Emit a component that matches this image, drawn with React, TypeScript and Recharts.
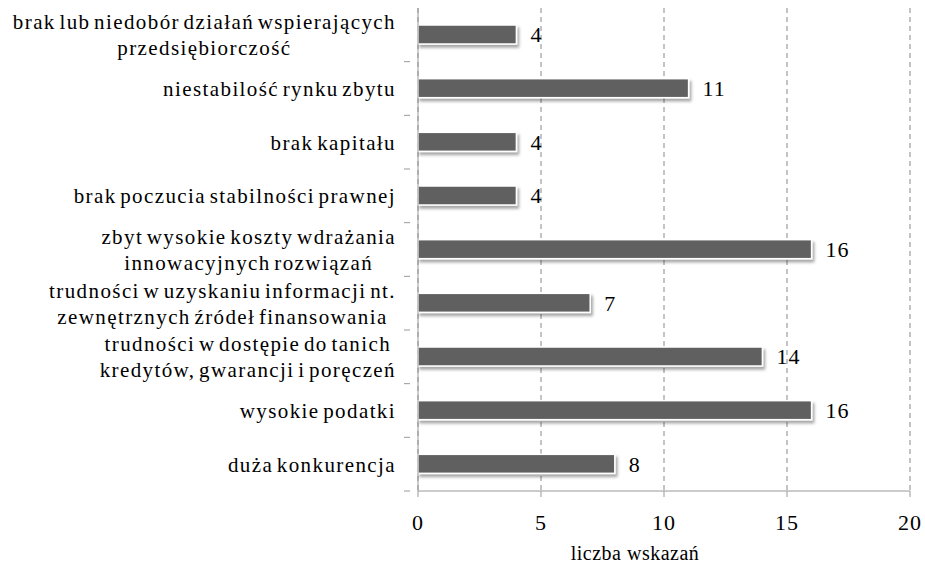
import React from 'react';
import { BarChart, Bar, XAxis, YAxis, CartesianGrid, LabelList } from 'recharts';

const categories = [
  'brak lub niedobór działań wspierających\nprzedsiębiorczość',
  'niestabilość rynku zbytu',
  'brak kapitału',
  'brak poczucia stabilności prawnej',
  'zbyt wysokie koszty wdrażania\ninnowacyjnych rozwiązań',
  'trudności w uzyskaniu informacji nt.\nzewnętrznych źródeł finansowania',
  'trudności w dostępie do tanich\nkredytów, gwarancji i poręczeń',
  'wysokie podatki',
  'duża konkurencja',
];
const values = [4, 11, 4, 4, 16, 7, 14, 16, 8];
const xTicks = [0, 5, 10, 15, 20];
const axisTitle = 'liczba wskazań';

const data = categories.map((name, i) => ({ name, value: values[i] }));

// the chart fills the whole window, so drop the default body margin
if (typeof document !== 'undefined') {
  document.body.style.margin = '0';
}

const FONT = 'Liberation Serif';
const CAT_SIZE = 21;
const CAT_LS = 1.4;
const CAT_WS = -3;

let ctx: CanvasRenderingContext2D | null = null;
function measure(s: string) {
  if (!ctx) {
    ctx = document.createElement('canvas').getContext('2d');
  }
  if (!ctx) return s.length * CAT_SIZE * 0.5;
  ctx.font = `${CAT_SIZE}px 'Liberation Serif'`;
  const c = ctx as any;
  if ('letterSpacing' in c) {
    c.letterSpacing = `${CAT_LS}px`;
    c.wordSpacing = `${CAT_WS}px`;
    return ctx.measureText(s).width;
  }
  const spaces = s.split(' ').length - 1;
  return ctx.measureText(s).width + s.length * CAT_LS + spaces * CAT_WS;
}

const CatTick = (props: any) => {
  const { x, y, payload } = props;
  const lines = String(payload.value).split('\n');
  const lh = 26;
  const right = x - 14;
  const w = Math.max(...lines.map(measure));
  const cx = right - w / 2;
  const y0 = y - ((lines.length - 1) * lh) / 2;
  const half = payload.offset ?? 26.8;
  return (
    <g>
      <line x1={x - 6} x2={x} y1={y + half} y2={y + half} stroke="#999" strokeWidth={1} />
      <text
        textAnchor="middle"
        fontFamily={FONT}
        fontSize={CAT_SIZE}
        fill="#000"
        style={{ letterSpacing: `${CAT_LS}px`, wordSpacing: `${CAT_WS}px`, fontFamily: FONT }}
      >
        {lines.map((l, i) => (
          <tspan key={i} x={cx} y={y0 + i * lh} dy="0.35em">
            {l}
          </tspan>
        ))}
      </text>
    </g>
  );
};

const NumTick = (props: any) => {
  const { x, y, payload } = props;
  return (
    <text
      x={x}
      y={y}
      dy="0.71em"
      textAnchor="middle"
      fontSize={22}
      fill="#000"
      style={{ fontFamily: FONT, letterSpacing: '1px' }}
    >
      {payload.value}
    </text>
  );
};

const ShadowBar = (props: any) => {
  const { x, y, width, height } = props;
  if (!width || width <= 0) return null;
  return (
    <rect
      x={x}
      y={y}
      width={width}
      height={height}
      fill="#606060"
      stroke="#fff"
      strokeWidth={1.5}
      filter="url(#barShadow)"
    />
  );
};

export default function App() {
  return (
    <div style={{ width: 925, height: 565, position: 'relative', overflow: 'hidden' }}>
      <svg width={0} height={0} style={{ position: 'absolute' }}>
        <defs>
          <filter id="barShadow" x="-10%" y="-30%" width="120%" height="180%">
            <feDropShadow dx={2} dy={3} stdDeviation={1.5} floodColor="#000" floodOpacity={0.35} />
          </filter>
        </defs>
      </svg>
      <BarChart
        width={925}
        height={565}
        data={data}
        layout="vertical"
        margin={{ top: 8, right: 15, bottom: 2, left: 0 }}
        barCategoryGap={0}
      >
        <CartesianGrid horizontal={false} stroke="#888" strokeDasharray="5 4" />
        <XAxis
          type="number"
          domain={[0, 20]}
          ticks={xTicks}
          interval={0}
          height={72}
          tickSize={6}
          tickMargin={17}
          stroke="#999"
          tick={NumTick}
          label={{
            value: axisTitle,
            position: 'insideBottom',
            offset: 3,
            dx: -29,
            fontSize: 20,
            fill: '#000',
            fontFamily: FONT,
            style: { letterSpacing: '0.5px' },
          }}
        />
        <YAxis
          type="category"
          dataKey="name"
          width={418}
          interval={0}
          tickLine={false}
          stroke="#999"
          tick={CatTick}
        />
        <Bar dataKey="value" barSize={19} shape={ShadowBar} isAnimationActive={false}>
          <LabelList
            dataKey="value"
            position="right"
            offset={14}
            fontSize={22}
            fill="#000"
            fontFamily={FONT}
            style={{ letterSpacing: '1px' }}
          />
        </Bar>
      </BarChart>
    </div>
  );
}
